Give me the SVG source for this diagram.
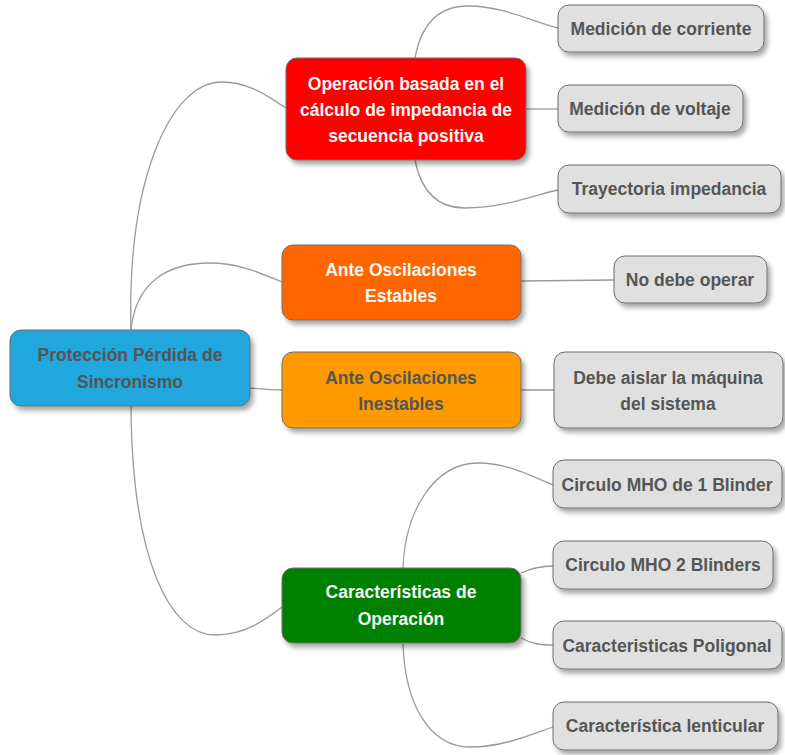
<svg xmlns="http://www.w3.org/2000/svg" width="785" height="755" viewBox="0 0 785 755">
  <defs>
    <filter id="shadow" x="-10%" y="-20%" width="130%" height="160%">
      <feGaussianBlur in="SourceAlpha" stdDeviation="2.5"/>
      <feOffset dx="3" dy="4" result="b"/>
      <feComponentTransfer><feFuncA type="linear" slope="0.35"/></feComponentTransfer>
      <feMerge><feMergeNode/><feMergeNode in="SourceGraphic"/></feMerge>
    </filter>
  </defs>
  <style>
    .box { stroke: #6e6e6e; stroke-width: 1; filter: url(#shadow); }
    .leaf { fill: #e0e0e0; }
    .txt { font-family: "Liberation Sans", Arial, sans-serif; font-weight: bold; font-size: 17.5px; text-anchor: middle; }
    .dark { fill: #555555; }
    .light { fill: #f7f7f7; }
    .link { fill: none; stroke: #9a9a9a; stroke-width: 1.3; }
  </style>
  <rect width="785" height="755" fill="#ffffff"/>

  <g id="connectors">
    <path class="link" d="M131,330 C127,180 170,82 222,82 C250,82 270,98 286,108"/>
    <path class="link" d="M131,330 C136,280 170,263 210,263 C240,263 262,274 282,282"/>
    <path class="link" d="M250,388 C262,389 272,390 282,390"/>
    <path class="link" d="M131,406 C132,560 170,635 215,635 C245,635 265,620 282,607"/>
    <path class="link" d="M415,58 C422,20 442,6 468,6 C505,6 538,24 558,28"/>
    <path class="link" d="M526,109 L558,109"/>
    <path class="link" d="M415,160 C422,195 440,208 465,208 C505,208 538,194 558,190"/>
    <path class="link" d="M521,281 L614,280"/>
    <path class="link" d="M521,390 L554,390"/>
    <path class="link" d="M403,568 C405,510 435,463 478,463 C510,463 535,478 553,485"/>
    <path class="link" d="M521,573 C532,568 540,566 553,566"/>
    <path class="link" d="M521,638 C532,644 540,645 553,645"/>
    <path class="link" d="M403,644 C405,705 430,747 470,747 C505,747 535,733 553,727"/>
  </g>

  <g id="root">
    <rect class="box" x="10" y="330" width="240" height="76" rx="11" fill="#20a6de"/>
    <text class="txt dark" x="130" y="361">Protección Pérdida de</text>
    <text class="txt dark" x="130" y="388">Sincronismo</text>
  </g>

  <g id="impedancia">
    <rect class="box" x="286" y="58" width="240" height="102" rx="11" fill="#ff0000"/>
    <text class="txt light" x="406" y="90">Operación basada en el</text>
    <text class="txt light" x="406" y="116">cálculo de impedancia de</text>
    <text class="txt light" x="406" y="142">secuencia positiva</text>
  </g>

  <g id="estables">
    <rect class="box" x="282" y="245" width="239" height="75" rx="11" fill="#ff6600"/>
    <text class="txt light" x="401" y="276">Ante Oscilaciones</text>
    <text class="txt light" x="401" y="302">Estables</text>
  </g>

  <g id="inestables">
    <rect class="box" x="282" y="352" width="239" height="76" rx="11" fill="#ff9900"/>
    <text class="txt dark" x="401" y="384">Ante Oscilaciones</text>
    <text class="txt dark" x="401" y="410">Inestables</text>
  </g>

  <g id="caracteristicas">
    <rect class="box" x="282" y="568" width="239" height="75" rx="11" fill="#008000"/>
    <text class="txt light" x="401" y="598">Características de</text>
    <text class="txt light" x="401" y="625">Operación</text>
  </g>

  <g id="corriente">
    <rect class="box leaf" x="558" y="5" width="206" height="47" rx="11"/>
    <text class="txt dark" x="661" y="35">Medición de corriente</text>
  </g>
  <g id="voltaje">
    <rect class="box leaf" x="558" y="85" width="185" height="47" rx="11"/>
    <text class="txt dark" x="650" y="115">Medición de voltaje</text>
  </g>
  <g id="trayectoria">
    <rect class="box leaf" x="558" y="165" width="223" height="48" rx="11"/>
    <text class="txt dark" x="669" y="195">Trayectoria impedancia</text>
  </g>
  <g id="no-operar">
    <rect class="box leaf" x="614" y="256" width="153" height="47" rx="11"/>
    <text class="txt dark" x="690" y="286">No debe operar</text>
  </g>
  <g id="aislar">
    <rect class="box leaf" x="554" y="352" width="229" height="76" rx="11"/>
    <text class="txt dark" x="668" y="384">Debe aislar la máquina</text>
    <text class="txt dark" x="668" y="410">del sistema</text>
  </g>
  <g id="mho1">
    <rect class="box leaf" x="553" y="460" width="229" height="48" rx="11"/>
    <text class="txt dark" x="667" y="491">Circulo MHO de 1 Blinder</text>
  </g>
  <g id="mho2">
    <rect class="box leaf" x="553" y="541" width="220" height="48" rx="11"/>
    <text class="txt dark" x="663" y="571">Circulo MHO 2 Blinders</text>
  </g>
  <g id="poligonal">
    <rect class="box leaf" x="553" y="621" width="229" height="48" rx="11"/>
    <text class="txt dark" x="667" y="652">Caracteristicas Poligonal</text>
  </g>
  <g id="lenticular">
    <rect class="box leaf" x="553" y="702" width="225" height="48" rx="11"/>
    <text class="txt dark" x="665" y="732">Característica lenticular</text>
  </g>
</svg>
